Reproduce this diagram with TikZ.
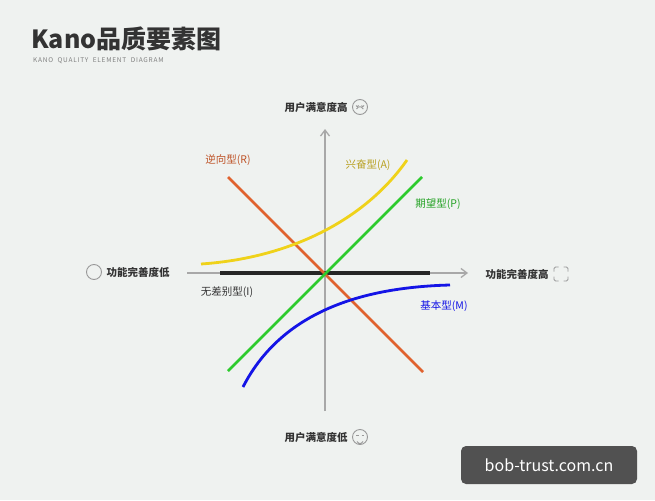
\documentclass[tikz,border=0pt]{standalone}
\usepackage{fontspec}
\setmainfont{Noto Sans CJK SC}
\newfontfamily\subfont[LetterSpace=12]{Noto Sans CJK SC}
\usetikzlibrary{arrows.meta}
\definecolor{bg}{HTML}{EFF2F0}
\definecolor{axisg}{HTML}{A8A8A8}
\definecolor{cR}{HTML}{E0622E}
\definecolor{cA}{HTML}{EFD21A}
\definecolor{cAt}{HTML}{B8A020}
\definecolor{cP}{HTML}{2DCB2D}
\definecolor{cM}{HTML}{1414E6}
\definecolor{txt}{HTML}{333333}
\begin{document}
\begin{tikzpicture}[x=1pt,y=-1pt,
  lab/.style={font=\fontsize{10.5}{12}\selectfont,text=txt,inner sep=1pt},
  blab/.style={lab,font=\fontsize{10.5}{12}\selectfont\bfseries},
  curve/.style={line width=2.8pt},
  icon/.style={draw=gray!80,line width=0.9pt}]
\fill[bg] (0,0) rectangle (655,500);
\useasboundingbox (0,0) rectangle (655,500);
% title
\node[anchor=west,font=\fontsize{25}{28}\selectfont\bfseries,text=txt,inner sep=0] (title) at (31,39) {Kano品质要素图};
\node[anchor=west,font=\subfont\fontsize{6.5}{8}\selectfont,text=gray,inner sep=0] (sub) at (33,61) {KANO\ \ QUALITY\ \ ELEMENT\ \ DIAGRAM};
% axes
\coordinate (xl) at (187,273); \coordinate (xr) at (468,273);
\coordinate (yb) at (325,411); \coordinate (yt) at (325,129);
\draw[axisg,line width=1.3pt,-{Straight Barb[length=6pt,width=9pt]}] (xl) -- (xr);
\draw[axisg,line width=1.3pt,-{Straight Barb[length=6pt,width=9pt]}] (yb) -- (yt);
% curves
\coordinate (i1) at (220,273); \coordinate (i2) at (430,273);
\draw[line width=3.2pt,black!85] (i1) -- (i2);
\coordinate (r1) at (228,177); \coordinate (r2) at (423,372);
\draw[curve,cR] (r1) -- (r2);
\coordinate (p1) at (228,371); \coordinate (p2) at (422,177);
\draw[curve,cP] (p1) -- (p2);
\coordinate (a1) at (201,264); \coordinate (a2) at (407,160);
\draw[curve,cA] (a1) .. controls (290,258) and (365,220) .. (a2);
\coordinate (m1) at (243,387); \coordinate (m2) at (450,285);
\draw[curve,cM] (m1) .. controls (285,305) and (375,287) .. (m2);
% curve labels
\node[lab,text=cR!85!black] (lR) at (228,160) {逆向型(R)};
\node[lab,text=cAt] (lA) at (368,165) {兴奋型(A)};
\node[lab,text=cP!80!black] (lP) at (438,204) {期望型(P)};
\node[lab] (lI) at (227,292) {无差别型(I)};
\node[lab,text=cM] (lM) at (444,306) {基本型(M)};
% axis labels
\node[blab] (top) at (316,107) {用户满意度高};
\node[blab] (bot) at (316,437) {用户满意度低};
\node[blab] (left) at (138,272) {功能完善度低};
\node[blab] (right) at (517,274) {功能完善度高};
% icons
\draw[icon] (360,107) circle (7.5);
\draw[icon] (356,105.5) arc (180:0:1.3) (361.5,105.5) arc (180:0:1.3);
\draw[icon] (356.5,109) arc (200:340:3.6);
\draw[icon] (360,437) circle (7.5);
\draw[icon] (356,435.5) -- (358.5,435.5) (361.5,435.5) -- (364,435.5);
\draw[icon] (357,441.5) arc (160:20:3.2);
\draw[icon] (94,272) circle (7.5);
\draw[icon,rounded corners=1.5pt] (554,267) rectangle (568,281);
\fill[bg] (558.5,265) rectangle (563.5,283) (552,271.5) rectangle (570,276.5);
% watermark
\node[fill=black!75,rounded corners=5pt,minimum width=176pt,minimum height=38pt,text=white,font=\fontsize{16}{18}\selectfont,opacity=0.9,text opacity=1] (wm) at (549,465) {bob-trust.com.cn};
\end{tikzpicture}
\end{document}
